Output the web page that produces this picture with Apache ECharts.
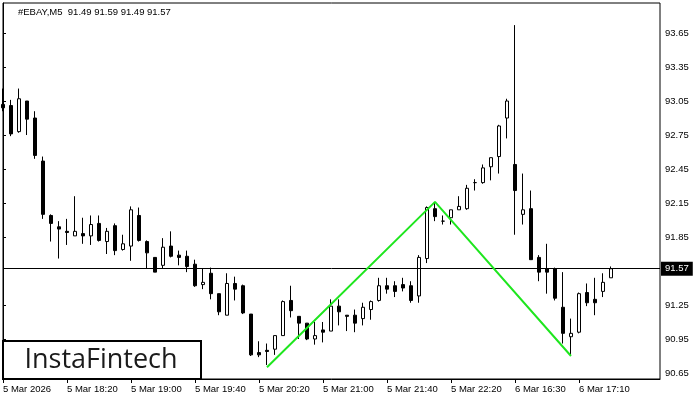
<!DOCTYPE html>
<html>
<head>
<meta charset="utf-8">
<script src="https://cdn.jsdelivr.net/npm/echarts@6.0.0/dist/echarts.min.js"></script>
<style>
html,body{margin:0;padding:0;background:#fff;}
#chart{width:700px;height:400px;}
</style>
</head>
<body>
<div id="chart"></div>
<script>
// ---- data (5-minute bars, #EBAY M5) ----
var times = [
 "5 Mar 17:40","5 Mar 17:45","5 Mar 17:50","5 Mar 17:55","5 Mar 18:00","5 Mar 18:05","5 Mar 18:10","5 Mar 18:15",
 "5 Mar 18:20","5 Mar 18:25","5 Mar 18:30","5 Mar 18:35","5 Mar 18:40","5 Mar 18:45","5 Mar 18:50","5 Mar 18:55",
 "5 Mar 19:00","5 Mar 19:05","5 Mar 19:10","5 Mar 19:15","5 Mar 19:20","5 Mar 19:25","5 Mar 19:30","5 Mar 19:35",
 "5 Mar 19:40","5 Mar 19:45","5 Mar 19:50","5 Mar 19:55","5 Mar 20:00","5 Mar 20:05","5 Mar 20:10","5 Mar 20:15",
 "5 Mar 20:20","5 Mar 20:25","5 Mar 20:30","5 Mar 20:35","5 Mar 20:40","5 Mar 20:45","5 Mar 20:50","5 Mar 20:55",
 "5 Mar 21:00","5 Mar 21:05","5 Mar 21:10","5 Mar 21:15","5 Mar 21:20","5 Mar 21:25","5 Mar 21:30","5 Mar 21:35",
 "5 Mar 21:40","5 Mar 21:45","5 Mar 21:50","5 Mar 21:55","5 Mar 22:00","5 Mar 22:05","5 Mar 22:10","5 Mar 22:15",
 "5 Mar 22:20","5 Mar 22:25","5 Mar 22:30","5 Mar 22:35","5 Mar 22:40","5 Mar 22:45","5 Mar 22:50","5 Mar 22:55",
 "6 Mar 16:30","6 Mar 16:35","6 Mar 16:40","6 Mar 16:45","6 Mar 16:50","6 Mar 16:55","6 Mar 17:00","6 Mar 17:05",
 "6 Mar 17:10","6 Mar 17:15","6 Mar 17:20","6 Mar 17:25","6 Mar 17:30"
];
var firstLabel = "5 Mar 2026";

var openP = [
 93.02,93.01,92.78,93.05,92.90,92.52,92.04,91.94,
 91.90,91.86,91.88,91.86,91.97,91.81,91.95,91.74,
 91.77,92.04,91.81,91.67,91.60,91.77,91.69,91.68,
 91.61,91.43,91.53,91.35,91.16,91.44,91.42,91.17,
 90.83,90.85,90.86,90.98,91.29,91.15,91.09,90.95,
 91.03,91.02,91.24,91.16,91.16,91.13,91.21,91.29,
 91.42,91.42,91.43,91.42,91.33,91.66,92.10,91.99,
 92.02,92.09,92.10,92.33,92.33,92.47,92.56,92.90,
 92.49,92.05,92.10,91.67,91.57,91.57,91.23,90.97,
 91.01,91.36,91.30,91.37,91.49
];
var closeP = [
 92.99,92.76,93.07,92.89,92.57,92.05,91.97,91.92,
 91.89,91.90,91.86,91.96,91.82,91.90,91.73,91.79,
 92.09,91.82,91.71,91.54,91.76,91.68,91.67,91.59,
 91.42,91.45,91.35,91.19,91.44,91.39,91.18,90.81,
 90.81,90.84,90.98,91.28,91.20,91.09,90.95,90.98,
 91.01,91.24,91.19,91.15,91.09,91.23,91.28,91.42,
 91.39,91.37,91.40,91.29,91.67,92.11,92.03,91.99,
 92.09,92.12,92.28,92.33,92.46,92.55,92.83,93.05,
 92.26,92.09,91.65,91.54,91.54,91.31,91.00,91.00,
 91.35,91.27,91.27,91.45,91.57
];
var lowP = [
 92.96,92.74,92.77,92.75,92.54,92.01,91.81,91.66,
 91.78,91.86,91.79,91.78,91.81,91.70,91.69,91.73,
 91.64,91.81,91.57,91.54,91.57,91.67,91.60,91.54,
 91.41,91.39,91.30,91.16,91.16,91.29,91.17,90.80,
 90.79,90.72,90.81,90.98,91.14,90.95,90.94,90.90,
 90.92,91.02,91.07,91.02,91.01,91.07,91.12,91.28,
 91.35,91.32,91.37,91.27,91.27,91.62,91.99,91.96,
 91.96,92.09,92.09,92.26,92.32,92.35,92.41,92.72,
 91.87,91.96,91.65,91.46,91.35,91.29,90.91,90.80,
 91.00,91.24,91.16,91.32,91.49
];
var highP = [
 93.16,93.06,93.16,93.05,92.96,92.56,92.05,91.99,
 92.01,92.21,92.02,92.04,92.04,91.93,91.97,91.87,
 92.12,92.11,91.82,91.67,91.84,91.90,91.73,91.73,
 91.65,91.57,91.58,91.35,91.53,91.50,91.43,91.17,
 90.93,90.91,90.98,91.29,91.42,91.15,91.09,91.10,
 91.10,91.30,91.30,91.16,91.21,91.27,91.29,91.49,
 91.49,91.46,91.49,91.46,91.69,92.12,92.16,92.04,
 92.09,92.21,92.31,92.36,92.49,92.55,92.84,93.07,
 93.72,92.41,92.26,91.69,91.79,91.58,91.54,91.13,
 91.36,91.44,91.49,91.53,91.59
];

// double-bottom pattern (bar index, price)
var patternBars = [33, 54, 71];
var patternPrices = [90.70, 92.16, 90.80];

var lastPrice = 91.57;
var yTicks = [90.65, 90.95, 91.25, 91.85, 92.15, 92.45, 92.75, 93.05, 93.35, 93.65];
var xTickBars = [0, 8, 16, 24, 32, 40, 48, 56, 64, 72];
var title = "#EBAY,M5  91.49 91.59 91.49 91.57";

// ---- build ----
var candles = times.map(function (t, i) {
  return [i, openP[i], closeP[i], lowP[i], highP[i]];
});
var pattern = patternBars.map(function (b, i) { return [b, patternPrices[i]]; });

var FONT = '"Liberation Sans", Arial, sans-serif';
var chart = echarts.init(document.getElementById('chart'), null, {renderer: 'canvas'});
chart.setOption({
  animation: false,
  backgroundColor: '#fff',
  grid: {left: 3, top: 3, width: 657, height: 376, show: true, borderColor: '#000', borderWidth: 1, backgroundColor: 'transparent'},
  xAxis: {
    type: 'value', min: 0, max: 82.125,
    axisLine: {show: true, lineStyle: {color: '#000', width: 1}},
    splitLine: {show: false},
    axisTick: {show: true, length: 4, lineStyle: {color: '#000'}, customValues: xTickBars},
    axisLabel: {
      customValues: xTickBars,
      color: '#000', fontFamily: FONT, fontSize: 9.5, align: 'left', margin: 5,
      formatter: function (v) {
        var k = Math.round(v);
        if (k === 0) return firstLabel;
        return times[k] || '';
      }
    }
  },
  yAxis: {
    type: 'value', position: 'right', min: 90.597, max: 93.915, scale: true,
    axisLine: {show: true, lineStyle: {color: '#000', width: 1}},
    splitLine: {show: false},
    axisTick: {show: true, length: 3, lineStyle: {color: '#000'}, customValues: yTicks},
    axisLabel: {
      customValues: yTicks,
      color: '#000', fontFamily: FONT, fontSize: 9.5, margin: 5,
      formatter: function (v) { return v.toFixed(2); }
    }
  },
  series: [
    {
      type: 'candlestick',
      data: candles,
      barWidth: 4,
      clip: true,
      itemStyle: {color: '#fff', color0: '#000', borderColor: '#000', borderColor0: '#000', borderWidth: 1},
      markLine: {
        silent: true, symbol: ['none', 'none'], animation: false,
        lineStyle: {color: '#000', width: 1, type: 'solid'},
        label: {show: true, position: 'end', distance: 1, formatter: lastPrice.toFixed(2),
                backgroundColor: '#000', color: '#fff', fontFamily: FONT, fontSize: 9.5, padding: [2, 4, 2, 4]},
        data: [{yAxis: lastPrice}]
      }
    },
    {
      type: 'line',
      data: pattern,
      showSymbol: false,
      symbol: 'none',
      lineStyle: {color: '#1ee61e', width: 2},
      z: 5
    }
  ],
  graphic: [
    {type: 'text', left: 18, top: 7, style: {text: title, fill: '#000', font: '9.5px ' + FONT}},
    {type: 'rect', shape: {x: 3, y: 341, width: 198, height: 38}, style: {fill: '#fff', stroke: '#000', lineWidth: 2}, z: 100},
    {type: 'text', x: 101, y: 360, z: 101, style: {text: 'InstaFintech', fill: '#1a1a1a', font: '27px "Open Sans", Lato, sans-serif', align: 'center', verticalAlign: 'middle'}}
  ]
});
</script>
</body>
</html>
